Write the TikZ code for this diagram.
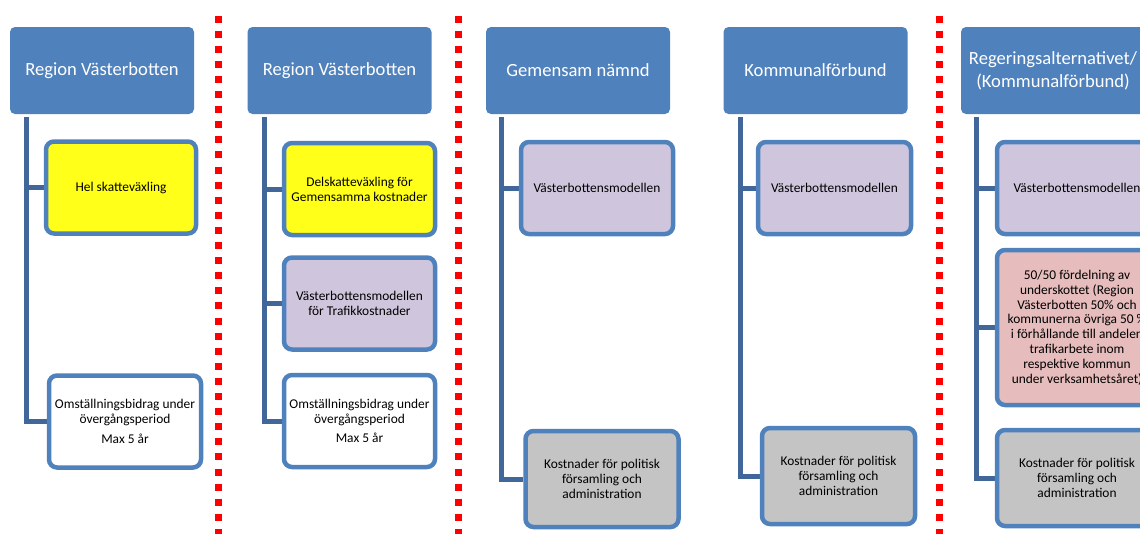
\documentclass[tikz,border=0pt]{standalone}
\usepackage{fontspec}
\setmainfont{Carlito}
\usepackage{tikz}
\usetikzlibrary{calc,positioning,backgrounds}
\definecolor{headblue}{HTML}{4F81BD}
\definecolor{linkblue}{HTML}{41679A}
\definecolor{boxyellow}{HTML}{FFFF1A}
\definecolor{boxlilac}{HTML}{CFC6DE}
\definecolor{boxpink}{HTML}{E6BCBC}
\definecolor{boxgrey}{HTML}{C4C4C4}
\definecolor{sepred}{HTML}{FF0000}

\begin{document}
\begin{tikzpicture}[
  x=1pt,y=-1pt,
  head/.style={fill=headblue,rounded corners=5pt,minimum width=184pt,minimum height=87pt,
    inner sep=0pt,align=center,text=white,font=\fontsize{18.6}{23}\selectfont},
  box/.style={draw=headblue,line width=4.5pt,rounded corners=8pt,minimum width=150pt,
    minimum height=92pt,inner sep=0pt,align=center,font=\fontsize{13.4}{14.8}\selectfont},
  conn/.style={draw=linkblue,line width=5pt},
  sep/.style={draw=sepred,line width=7pt,dash pattern=on 7pt off 8.1pt},
  ]
  \useasboundingbox (0,0) rectangle (1140,533);
  \clip (0,0) rectangle (1140,533);

  % separators
  \foreach \x in {218,458,939}
    \draw[sep] (\x,15.5) -- (\x,540);

  % column 1
  \node[head] (h1) at (102,70.5) {Region Västerbotten};
  \node[box,fill=boxyellow] (c11) at (121,187.5) {Hel skatteväxling};
  \node[box,fill=white,minimum width=152pt] (c12) at (125,421.5)
    {Omställningsbidrag under\\övergångsperiod\\[5pt]Max 5 år};

  % column 2
  \node[head] (h2) at (339.5,70.5) {Region Västerbotten};
  \node[box,fill=boxyellow,minimum width=151pt] (c21) at (359.5,189)
    {Delskatteväxling för\\Gemensamma kostnader};
  \node[box,fill=boxlilac,minimum width=151pt] (c22) at (359.5,303.5)
    {Västerbottensmodellen\\för Trafikkostnader};
  \node[box,fill=white,minimum width=151pt] (c23) at (359.5,421)
    {Omställningsbidrag under\\övergångsperiod\\[5pt]Max 5 år};

  % column 3
  \node[head] (h3) at (578,70.5) {Gemensam nämnd};
  \node[box,fill=boxlilac,minimum width=152pt] (c31) at (597,188) {Västerbottensmodellen};
  \node[box,fill=boxgrey,minimum width=153pt,minimum height=96pt] (c32) at (602,479)
    {Kostnader för politisk\\församling och\\administration};

  % column 4
  \node[head] (h4) at (815.5,70.5) {Kommunalförbund};
  \node[box,fill=boxlilac,minimum width=153pt] (c41) at (834.5,188) {Västerbottensmodellen};
  \node[box,fill=boxgrey,minimum width=153pt,minimum height=96pt] (c42) at (838.5,476)
    {Kostnader för politisk\\församling och\\administration};

  % column 5
  \node[head] (h5) at (1053,70.5) {Regeringsalternativet/\\(Kommunalförbund)};
  \node[box,fill=boxlilac,minimum width=160pt] (c51) at (1077,188) {Västerbottensmodellen};
  \node[box,fill=boxpink,minimum width=160pt,minimum height=155pt] (c52) at (1077,327.5)
    {50/50 fördelning av\\underskottet (Region\\Västerbotten 50\% och\\kommunerna övriga 50 \%\\i förhållande till andelen\\trafikarbete inom\\respektive kommun\\under verksamhetsåret)};
  \node[box,fill=boxgrey,minimum width=160pt,minimum height=96pt] (c53) at (1077,478)
    {Kostnader för politisk\\församling och\\administration};

  \begin{scope}[on background layer]
    \draw[conn] ($(h1.south west)+(17,3)$) |- (c11.west);
    \draw[conn] ($(h1.south west)+(17,3)$) |- (c12.west);
    \draw[conn] ($(h2.south west)+(17,3)$) |- (c21.west);
    \draw[conn] ($(h2.south west)+(17,3)$) |- (c22.west);
    \draw[conn] ($(h2.south west)+(17,3)$) |- (c23.west);
    \draw[conn] ($(h3.south west)+(16,3)$) |- (c31.west);
    \draw[conn] ($(h3.south west)+(16,3)$) |- (c32.west);
    \draw[conn] ($(h4.south west)+(17,3)$) |- (c41.west);
    \draw[conn] ($(h4.south west)+(17,3)$) |- (c42.west);
    \draw[conn] ($(h5.south west)+(16,3)$) |- (c51.west);
    \draw[conn] ($(h5.south west)+(16,3)$) |- (c52.west);
    \draw[conn] ($(h5.south west)+(16,3)$) |- (c53.west);
  \end{scope}
\end{tikzpicture}
\end{document}
